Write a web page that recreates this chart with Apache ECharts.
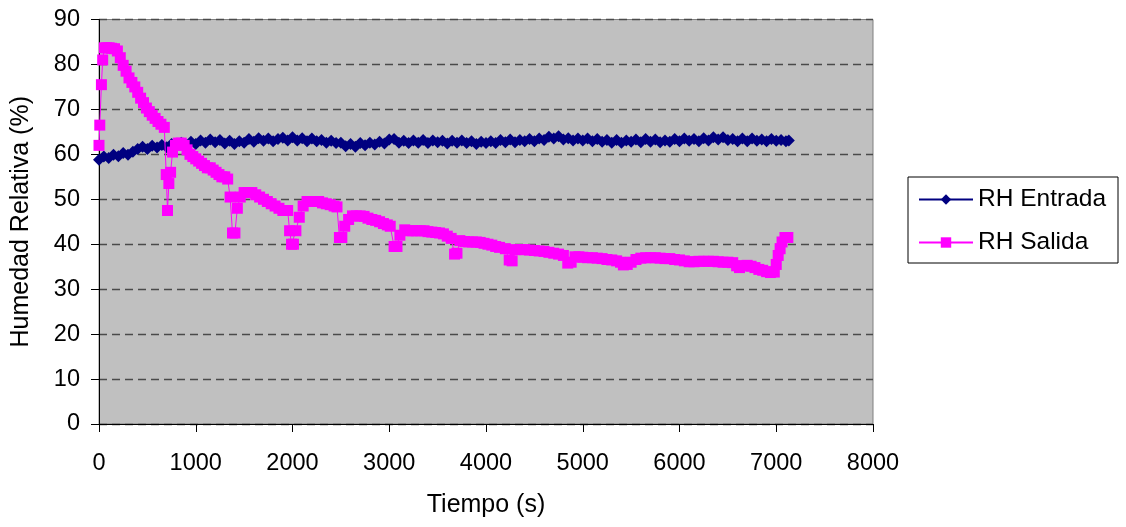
<!DOCTYPE html>
<html>
<head>
<meta charset="utf-8">
<script src="https://cdn.jsdelivr.net/npm/echarts@6/dist/echarts.min.js"></script>
<style>
html,body{margin:0;padding:0;background:#fff;}
#chart{width:1126px;height:527px;}
</style>
</head>
<body>
<div id="chart"></div>
<script>
// ---- Data ----
const seriesNames = ['RH Entrada', 'RH Salida'];
const xTicks = [0, 1000, 2000, 3000, 4000, 5000, 6000, 7000, 8000];
const yTicks = [0, 10, 20, 30, 40, 50, 60, 70, 80, 90];

const timeEntrada = [
  0,50,100,150,200,250,300,350,400,450,500,550,600,650,700,750,800,850,900,950,1000,
  1050,1100,1150,1200,1250,1300,1350,1400,1450,1500,1550,1600,1650,1700,1750,1800,1850,1900,1950,2000,
  2050,2100,2150,2200,2250,2300,2350,2400,2450,2500,2550,2600,2650,2700,2750,2800,2850,2900,2950,3000,
  3050,3100,3150,3200,3250,3300,3350,3400,3450,3500,3550,3600,3650,3700,3750,3800,3850,3900,3950,4000,
  4050,4100,4150,4200,4250,4300,4350,4400,4450,4500,4550,4600,4650,4700,4750,4800,4850,4900,4950,5000,
  5050,5100,5150,5200,5250,5300,5350,5400,5450,5500,5550,5600,5650,5700,5750,5800,5850,5900,5950,6000,
  6050,6100,6150,6200,6250,6300,6350,6400,6450,6500,6550,6600,6650,6700,6750,6800,6850,6900,6950,7000,
  7050,7100,7130
];
const rhEntrada = [
  58.8,59.5,59.2,59.9,59.6,60.3,59.9,60.6,61.2,61.7,61.2,61.9,61.5,62.1,61.6,62.3,61.8,62.6,62.0,62.8,62.3,
  63.1,62.6,63.3,62.7,63.2,62.4,63.0,62.3,62.9,62.6,63.4,62.8,63.6,63.0,63.5,62.9,63.4,63.7,63.1,63.8,
  63.1,63.6,62.9,63.5,62.9,63.2,62.6,63.0,62.5,62.6,61.8,62.3,61.7,62.5,62.0,62.6,62.2,62.8,62.4,63.3,
  63.4,62.6,63.0,62.5,63.1,62.6,63.2,62.5,63.1,62.7,63.0,62.4,63.0,62.6,63.1,62.5,62.9,62.3,62.8,62.5,
  62.9,62.5,63.2,62.7,63.3,62.7,63.2,62.9,63.4,62.9,63.5,63.2,63.9,63.5,64.0,63.3,63.6,63.1,63.5,63.1,
  63.5,62.9,63.4,62.8,63.2,62.6,63.2,62.6,63.1,62.8,63.3,62.7,63.4,62.8,63.3,62.7,63.1,62.8,63.4,62.9,
  63.5,63.0,63.4,62.9,63.6,63.1,63.8,63.3,63.8,63.2,63.4,62.9,63.5,62.9,63.5,63.0,63.3,62.9,63.4,63.0,
  63.2,62.9,63.1
];

const timeSalida = [
  0,8,25,38,55,80,105,130,160,190,220,250,280,310,340,370,400,430,460,490,520,550,580,610,640,675,
  695,708,722,740,760,790,820,850,880,910,940,970,1000,1030,1060,1090,1120,1150,1180,1210,1240,1270,1300,1330,
  1355,1380,1405,1430,1460,1500,1540,1580,1620,1660,1700,1740,1780,1820,1860,1900,1950,
  1970,1990,2010,2035,2070,2110,2150,2190,2230,2270,2310,2350,2390,2430,2460,
  2485,2510,2540,2580,2620,2660,2700,2740,2780,2820,2860,2900,2940,2980,3010,
  3050,3080,3110,3160,3200,3240,3280,3320,3360,3400,3440,3480,3520,3560,3600,3640,
  3675,3700,3730,3780,3820,3860,3900,3940,3980,4020,4060,4100,4140,4200,
  4240,4270,4300,4350,4400,4450,4500,4550,4600,4650,4700,4750,4800,
  4845,4880,4920,4960,5000,5050,5100,5150,5200,5250,5300,5350,5390,5420,5460,5500,5550,5600,5650,5700,5750,5800,
  5850,5900,5950,6000,6050,6100,6150,6200,6250,6300,6350,6400,6450,6500,6550,6590,6620,6660,6700,6740,6780,6820,
  6860,6900,6940,6980,7000,7020,7040,7060,7090,7120
];
const rhSalida = [
  62,66.5,75.5,81,83.7,83.7,83.7,83.6,83.5,83,81.5,79.8,78.5,77,76,75,73.8,72.5,71.5,70.3,69.5,68.7,68,67.3,66.7,66,
  55.5,47.5,53.5,56,60.5,62,62.5,62.5,62,61,60,59.5,59,58.5,58,57.5,57,57,56.5,56,55.5,55,55,54.5,
  50.5,42.5,42.5,48,50.5,51.5,51.5,51.5,51,50.5,50,49.5,49,48.5,48,47.5,47.5,
  43,40,40,43,46,48.5,49.5,49.5,49.5,49.5,49.2,49,48.8,48.5,48.3,
  41.5,41.5,44,45.5,46.3,46.3,46.3,46.2,45.8,45.5,45.3,45,44.6,44.3,44,
  39.5,39.5,42,43.2,43,43,43,43,43,42.8,42.7,42.6,42.5,42.3,41.8,41.3,
  37.8,38,40.8,40.6,40.5,40.5,40.5,40.4,40.2,40,39.8,39.5,39.3,39,
  36.5,36.3,38.8,38.8,38.8,38.7,38.6,38.5,38.4,38.2,38,37.8,37.5,
  35.8,36,37.2,37.2,37.1,37,37,36.9,36.8,36.6,36.5,36.3,36,35.4,35.5,36,36.6,36.9,37,37,37,36.9,
  36.8,36.8,36.6,36.5,36.3,36.1,36.1,36.2,36.2,36.2,36.2,36.1,36,36,35.9,35.2,34.8,35.2,35.3,35.1,34.8,34.4,
  34.2,33.9,33.7,33.8,35.5,37.5,39,40.5,41.5,41.5
];

const pairs = (xs, ys) => xs.map((x, i) => [x, ys[i]]);

const FONT = 'Liberation Sans, Arial, sans-serif';
const FS = 23.5;
const chart = echarts.init(document.getElementById('chart'), null, {renderer: 'canvas'});
chart.setOption({
  animation: false,
  backgroundColor: '#ffffff',
  textStyle: {fontFamily: FONT},
  grid: {
    left: 99, top: 19.5, right: 253, bottom: 103,
    show: true, backgroundColor: '#c0c0c0', borderColor: '#808080', borderWidth: 1
  },
  legend: {
    left: 908, top: 177,
    orient: 'vertical',
    data: seriesNames,
    backgroundColor: '#ffffff',
    borderColor: '#000000', borderWidth: 1,
    padding: [10, 12, 8, 10],
    itemWidth: 54, itemHeight: 13, itemGap: 18,
    textStyle: {fontFamily: FONT, fontSize: 24.5, color: '#000'}
  },
  xAxis: {
    type: 'value', min: xTicks[0], max: xTicks[xTicks.length - 1], interval: 1000,
    name: 'Tiempo (s)', nameLocation: 'middle', nameGap: 69,
    nameTextStyle: {fontFamily: FONT, fontSize: 25, color: '#000'},
    axisLine: {show: true, onZero: false, lineStyle: {color: '#000', width: 1}},
    axisTick: {show: true, length: 8, lineStyle: {color: '#000'}},
    axisLabel: {fontFamily: FONT, fontSize: FS, color: '#000', margin: 28,
      formatter: v => String(v)},
    splitLine: {show: false}
  },
  yAxis: {
    type: 'value', min: yTicks[0], max: yTicks[yTicks.length - 1], interval: 10,
    name: 'Humedad Relativa (%)', nameLocation: 'middle', nameGap: 65,
    nameTextStyle: {fontFamily: FONT, fontSize: 25, color: '#000'},
    axisLine: {show: true, onZero: false, lineStyle: {color: '#000', width: 1}},
    axisTick: {show: true, length: 8, lineStyle: {color: '#000'}},
    axisLabel: {fontFamily: FONT, fontSize: FS, color: '#000', margin: 19,
      formatter: v => String(v)},
    splitLine: {show: true, lineStyle: {color: '#4a4a4a', width: 1.3, type: [8, 5]}}
  },
  series: [
    {
      name: seriesNames[0], type: 'line',
      data: pairs(timeEntrada, rhEntrada),
      symbol: 'diamond', symbolSize: 12,
      showAllSymbol: true,
      lineStyle: {color: '#000080', width: 1},
      itemStyle: {color: '#000080', borderWidth: 0},
      z: 3
    },
    {
      name: seriesNames[1], type: 'line',
      data: pairs(timeSalida, rhSalida),
      symbol: 'rect', symbolSize: 11,
      showAllSymbol: true,
      lineStyle: {color: '#ff00ff', width: 1},
      itemStyle: {color: '#ff00ff', borderWidth: 0},
      z: 4
    }
  ]
});
</script>
</body>
</html>
